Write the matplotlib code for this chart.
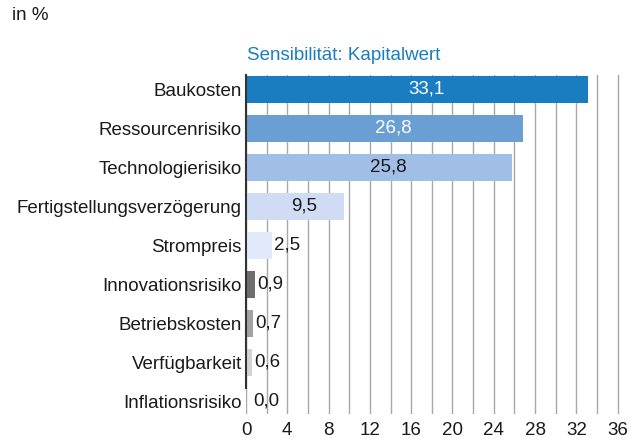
import matplotlib.pyplot as plt
import numpy as np

plt.rcParams['font.family'] = ['Liberation Sans', 'DejaVu Sans']

categories = ["Baukosten", "Ressourcenrisiko", "Technologierisiko",
              "Fertigstellungsverzögerung", "Strompreis", "Innovationsrisiko",
              "Betriebskosten", "Verfügbarkeit", "Inflationsrisiko"]
values = [33.1, 26.8, 25.8, 9.5, 2.5, 0.9, 0.7, 0.6, 0.0]
colors = ["#1a7dc0", "#6a9fd3", "#a1bee6", "#cfdcf4", "#e2e9f8",
          "#6d6d6d", "#a3a3a3", "#d3d3d3", "#ffffff"]
inside = [True, True, True, True, False, False, False, False, False]
label_colors = ["white", "white", "#1a1a1a", "#1a1a1a"] + ["#1a1a1a"] * 5

fig = plt.figure(figsize=(6.44, 4.4), dpi=100)
ax = fig.add_axes([246 / 644, 1 - 414 / 440, (628 - 246) / 644, (414 - 75) / 440])

y = np.arange(len(categories))
ax.barh(y, values, height=0.69, color=colors, zorder=2)

ax.set_xlim(0, 37)
ax.set_ylim(8.33, -0.36)
ax.set_xticks(np.arange(0, 37, 4))
ax.set_xticks(np.arange(0, 37, 2), minor=True)
ax.set_xticklabels([str(t) for t in range(0, 37, 4)])
ax.grid(axis='x', which='both', color='#a8a8a8', linewidth=1, zorder=1)
ax.set_yticks(y)
ax.set_yticklabels(categories)
ax.tick_params(axis='both', which='both', length=0, labelsize=13.5, colors='#1a1a1a')
ax.tick_params(axis='y', pad=3)
ax.tick_params(axis='x', pad=6)

for s in ['top', 'right', 'bottom']:
    ax.spines[s].set_visible(False)
ax.spines['left'].set_color('#333333')
ax.spines['left'].set_linewidth(1.5)
ax.spines['left'].set_bounds(-0.36, 7.67)
ax.spines['left'].set_zorder(3)

for i, v in enumerate(values):
    txt = f"{v:.1f}".replace('.', ',')
    if inside[i]:
        ax.text(v / 2 + 0.9, i, txt, ha='center', va='center',
                color=label_colors[i], fontsize=13.5, zorder=4)
    else:
        ax.annotate(txt, (max(v, 0.5), i), xytext=(1.5, 0), textcoords='offset points',
                    ha='left', va='center', color=label_colors[i], fontsize=13.5, zorder=4)

fig.text(12 / 644, 1 - 16 / 440, "in %", fontsize=13.5, color='#1a1a1a', va='center')
fig.text(247 / 644, 1 - 56 / 440, "Sensibilität: Kapitalwert", fontsize=13.5,
         color='#1a7dc0', va='center')

fig.savefig("out.png", dpi=100)
